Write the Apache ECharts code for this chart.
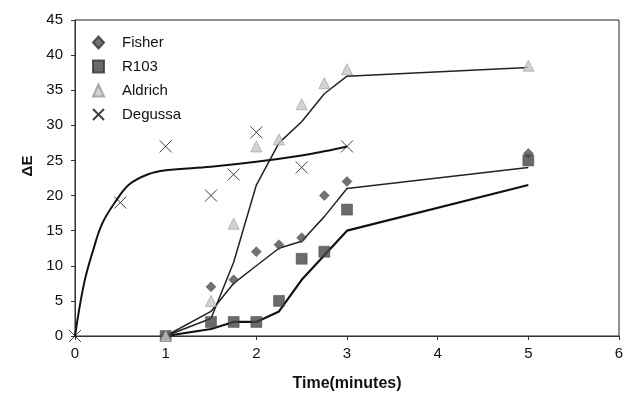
<!DOCTYPE html>
<html>
<head>
<meta charset="utf-8">
<script src="https://cdn.jsdelivr.net/npm/echarts@6/dist/echarts.min.js"></script>
<style>html,body{margin:0;padding:0;background:#fff}#c{width:626px;height:395px}</style>
</head>
<body>
<div id="c"></div>
<script>
// Measured points
const fisher = [[1,0],[1.5,7],[1.75,8],[2,12],[2.25,13],[2.5,14],[2.75,20],[3,22],[5,26]];
const r103 = [[1,0],[1.5,2],[1.75,2],[2,2],[2.25,5],[2.5,11],[2.75,12],[3,18],[5,25]];
const aldrich = [[1,0],[1.5,5],[1.75,16],[2,27],[2.25,28],[2.5,33],[2.75,36],[3,38],[5,38.5]];
const degussa = [[0,0],[0.5,19],[1,27],[1.5,20],[1.75,23],[2,29],[2.5,24],[3,27]];
// Trend lines
const fisherTrend = [[1,0],[1.5,3.5],[1.75,7.5],[2,10],[2.25,12.5],[2.5,13.5],[2.75,17],[3,21],[5,24]];
const r103Trend = [[1,0],[1.5,1],[1.75,2],[2,2],[2.25,3.5],[2.5,8],[2.75,11.5],[3,15],[5,21.5]];
const aldrichTrend = [[1,0],[1.5,2.5],[1.75,10.5],[2,21.5],[2.25,27.5],[2.5,30.5],[2.75,34.5],[3,37],[5,38.25]];
const degussaTrend = [[0,0],[0.1,7.5],[0.2,12.2],[0.3,16],[0.45,19.2],[0.6,21.6],[0.8,23],[1,23.6],[1.5,24.1],[2,24.8],[2.5,25.7],[2.75,26.3],[3,27]];
const xTicks = [0,1,2,3,4,5,6];
const yTicks = [0,5,10,15,20,25,30,35,40,45];

const font = 'Liberation Sans, Arial, sans-serif';
const xSym = 'path://M0,0L10,10M10,0L0,10';

const chart = echarts.init(document.getElementById('c'), null, {renderer:'canvas'});
chart.setOption({
  animation: false,
  backgroundColor: '#fff',
  textStyle: {fontFamily: font},
  grid: {left: 75, right: 7, top: 20, bottom: 59, containLabel: false, outerBoundsMode: 'none', show: true, borderColor: '#222', borderWidth: 1, backgroundColor: 'transparent'},
  legend: {
    orient: 'vertical', left: 87, top: 30, itemGap: 9, itemWidth: 11, itemHeight: 12,
    textStyle: {fontFamily: font, fontSize: 15, color: '#111', padding: [0,0,0,13]},
    data: ['Fisher','R103','Aldrich','Degussa']
  },
  xAxis: {
    type: 'value', min: xTicks[0], max: xTicks[xTicks.length-1], interval: 1,
    name: 'Time(minutes)', nameLocation: 'middle', nameGap: 40,
    nameTextStyle: {fontFamily: font, fontSize: 16, fontWeight: 'bold', color: '#111'},
    axisLine: {lineStyle: {color: '#333', width: 1}},
    axisTick: {show: true, inside: false, length: 4, lineStyle: {color: '#333'}},
    axisLabel: {fontFamily: font, fontSize: 15, color: '#111', margin: 10},
    splitLine: {show: false}
  },
  yAxis: {
    type: 'value', min: yTicks[0], max: yTicks[yTicks.length-1], interval: 5,
    name: 'ΔE', nameLocation: 'middle', nameGap: 33, nameRotate: 90,
    nameTextStyle: {fontFamily: font, fontSize: 15, fontWeight: 'bold', color: '#111', padding: [0,0,0,24]},
    axisLine: {show: true, lineStyle: {color: '#333', width: 1}},
    axisTick: {show: true, inside: false, length: 4, lineStyle: {color: '#333'}},
    axisLabel: {fontFamily: font, fontSize: 15, color: '#111', margin: 12},
    splitLine: {show: false}
  },
  series: [
    {name: 'Fisher trend', type: 'line', data: fisherTrend, showSymbol: false, symbol: 'none', lineStyle: {color: '#222', width: 1.5}, z: 1},
    {name: 'R103 trend', type: 'line', data: r103Trend, showSymbol: false, symbol: 'none', lineStyle: {color: '#111', width: 2.2}, z: 1},
    {name: 'Aldrich trend', type: 'line', data: aldrichTrend, showSymbol: false, symbol: 'none', lineStyle: {color: '#222', width: 1.5}, z: 1},
    {name: 'Degussa trend', type: 'line', data: degussaTrend, smooth: 0.4, showSymbol: false, symbol: 'none', lineStyle: {color: '#111', width: 2}, z: 1},
    {name: 'Fisher', type: 'scatter', data: fisher, symbol: 'diamond', symbolSize: 10, itemStyle: {color: '#4f4f4f', borderColor: '#333', borderWidth: 0.5}, z: 3},
    {name: 'R103', type: 'scatter', data: r103, symbol: 'rect', symbolSize: 11, itemStyle: {color: '#464646', borderColor: '#333', borderWidth: 0.5}, z: 3},
    {name: 'Aldrich', type: 'scatter', data: aldrich, symbol: 'triangle', symbolSize: 11, itemStyle: {color: '#c8c8c8', borderColor: '#999', borderWidth: 0.8}, z: 4},
    {name: 'Degussa', type: 'scatter', data: degussa, symbol: xSym, symbolSize: 12, itemStyle: {color: 'rgba(0,0,0,0)', borderColor: '#111', borderWidth: 1}, z: 4}
  ]
});
</script>
</body>
</html>
